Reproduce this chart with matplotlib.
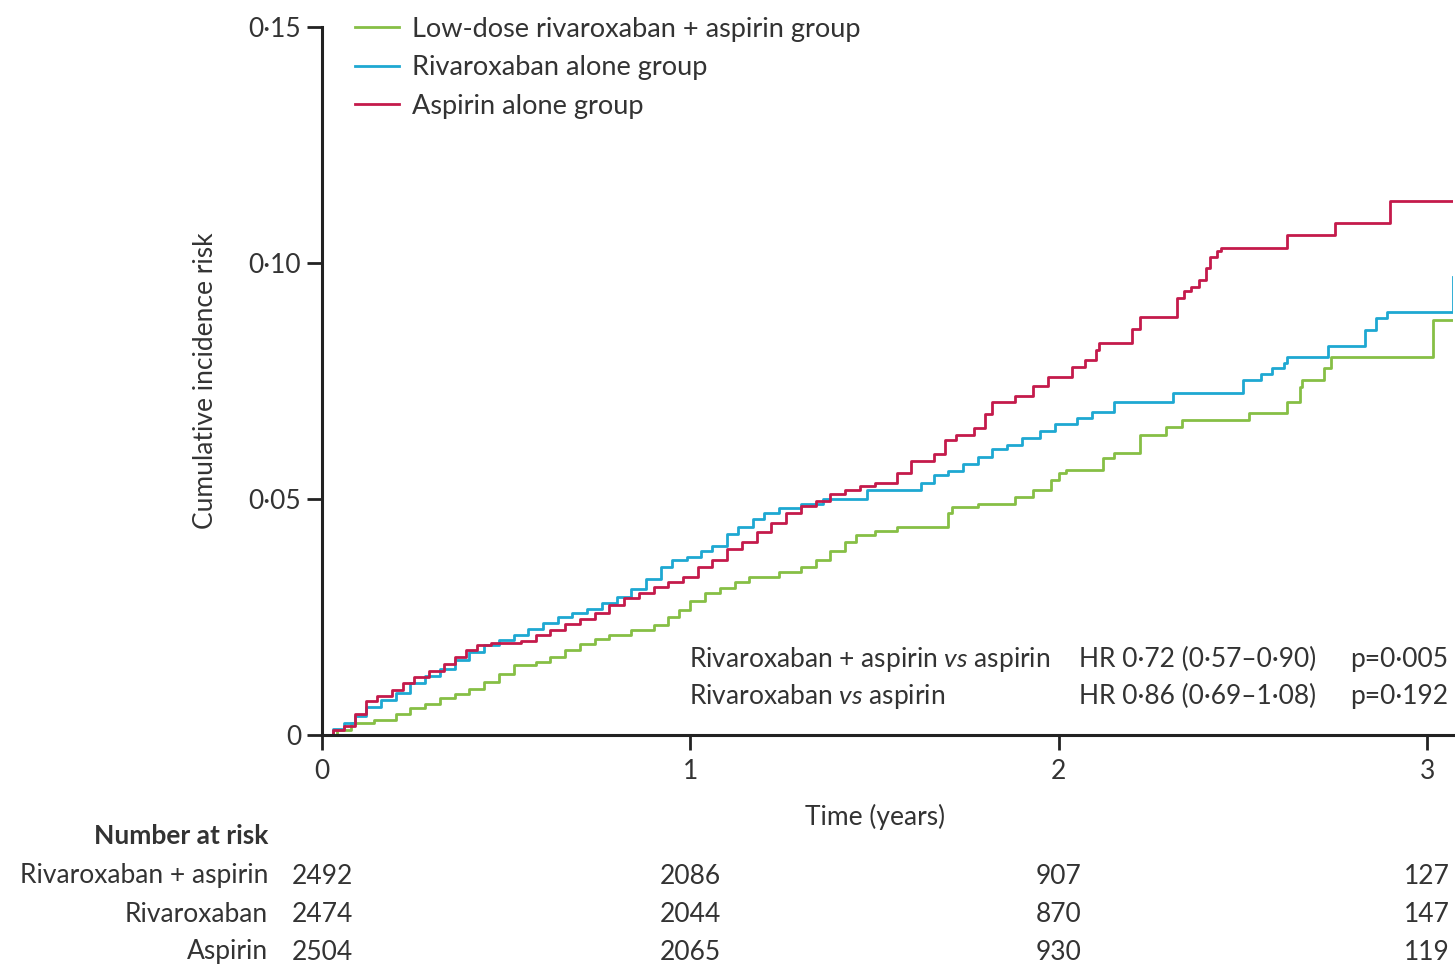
import numpy as np
import matplotlib
matplotlib.use("Agg")
import matplotlib.pyplot as plt
import matplotlib.transforms as mtransforms

plt.rcParams['font.family'] = ['Lato', 'DejaVu Sans']
plt.rcParams['mathtext.fontset'] = 'custom'
plt.rcParams['mathtext.rm'] = 'Lato'
plt.rcParams['mathtext.it'] = 'Lato:italic'

# cumulative incidence, step curves (time in years, risk)
combo_t = [0, 0.04, 0.08, 0.14, 0.20, 0.24, 0.28, 0.32, 0.36, 0.40, 0.44, 0.48, 0.52, 0.58,
           0.62, 0.66, 0.70, 0.74, 0.78, 0.84, 0.90, 0.94, 0.97, 1.00, 1.04, 1.08, 1.12, 1.16,
           1.24, 1.30, 1.34, 1.38, 1.42, 1.45, 1.50, 1.56, 1.70, 1.71, 1.78, 1.88, 1.93, 1.98,
           2.00, 2.02, 2.12, 2.15, 2.22, 2.29, 2.335, 2.515, 2.62, 2.655, 2.66, 2.72, 2.74,
           3.016, 3.07]
combo_v = [0, 0.0010, 0.0025, 0.0032, 0.0045, 0.0058, 0.0066, 0.0078, 0.0086, 0.0098, 0.0112,
           0.0130, 0.0148, 0.0155, 0.0165, 0.0180, 0.0192, 0.0203, 0.0212, 0.0222, 0.0233,
           0.0250, 0.0265, 0.0285, 0.0300, 0.0312, 0.0325, 0.0335, 0.0345, 0.0355, 0.0370,
           0.0390, 0.0410, 0.0424, 0.0432, 0.0441, 0.0470, 0.0483, 0.0490, 0.0505, 0.0520,
           0.0540, 0.0555, 0.0561, 0.0587, 0.0597, 0.0636, 0.0653, 0.0667, 0.0682, 0.0706,
           0.0737, 0.0752, 0.0778, 0.0800, 0.0879, 0.0879]

riva_t = [0, 0.03, 0.06, 0.09, 0.12, 0.16, 0.20, 0.24, 0.28, 0.32, 0.36, 0.40, 0.44, 0.48,
          0.52, 0.56, 0.60, 0.64, 0.68, 0.72, 0.76, 0.80, 0.84, 0.88, 0.92, 0.95, 0.99, 1.03,
          1.06, 1.10, 1.13, 1.17, 1.20, 1.24, 1.30, 1.36, 1.48, 1.625, 1.66, 1.70, 1.74, 1.78,
          1.82, 1.86, 1.90, 1.95, 1.99, 2.05, 2.09, 2.15, 2.31, 2.50, 2.55, 2.58, 2.61, 2.62,
          2.73, 2.83, 2.86, 2.89, 3.07]
riva_v = [0, 0.0012, 0.0025, 0.0040, 0.0060, 0.0075, 0.0090, 0.0110, 0.0125, 0.0140, 0.0158,
          0.0175, 0.0190, 0.0202, 0.0212, 0.0225, 0.0238, 0.0250, 0.0258, 0.0268, 0.0280,
          0.0292, 0.0310, 0.0330, 0.0355, 0.0370, 0.0378, 0.0390, 0.0400, 0.0425, 0.0440,
          0.0458, 0.0470, 0.0480, 0.0490, 0.0500, 0.0520, 0.0535, 0.0550, 0.0560, 0.0575,
          0.0590, 0.0605, 0.0615, 0.0630, 0.0645, 0.0660, 0.0672, 0.0685, 0.0706, 0.0725,
          0.0752, 0.0765, 0.0778, 0.0788, 0.0800, 0.0824, 0.0858, 0.0883, 0.0896, 0.0970]

asp_t = [0, 0.03, 0.06, 0.09, 0.12, 0.15, 0.19, 0.22, 0.25, 0.29, 0.33, 0.36, 0.39, 0.42,
         0.46, 0.54, 0.58, 0.62, 0.66, 0.70, 0.74, 0.78, 0.82, 0.86, 0.90, 0.94, 0.98, 1.02,
         1.06, 1.10, 1.14, 1.18, 1.22, 1.26, 1.30, 1.34, 1.38, 1.42, 1.46, 1.50, 1.56, 1.60,
         1.66, 1.69, 1.72, 1.77, 1.80, 1.82, 1.88, 1.93, 1.97, 2.036, 2.07, 2.10, 2.11, 2.20,
         2.22, 2.32, 2.34, 2.36, 2.38, 2.40, 2.41, 2.43, 2.44, 2.62, 2.75, 2.90, 3.07]
asp_v = [0, 0.0010, 0.0020, 0.0045, 0.0072, 0.0082, 0.0095, 0.0110, 0.0123, 0.0135, 0.0150,
         0.0165, 0.0180, 0.0190, 0.0195, 0.0200, 0.0212, 0.0222, 0.0235, 0.0245, 0.0258,
         0.0275, 0.0290, 0.0300, 0.0314, 0.0325, 0.0335, 0.0355, 0.0370, 0.0395, 0.0410,
         0.0430, 0.0450, 0.0470, 0.0485, 0.0495, 0.0510, 0.0520, 0.0528, 0.0535, 0.0555,
         0.0580, 0.0595, 0.0625, 0.0635, 0.0650, 0.0680, 0.0705, 0.0718, 0.0740, 0.0758,
         0.0780, 0.0795, 0.0815, 0.0830, 0.0860, 0.0886, 0.0926, 0.0940, 0.0950, 0.0964,
         0.0990, 0.1013, 0.1025, 0.1032, 0.1060, 0.1085, 0.1131, 0.1131]

labels = ['Low-dose rivaroxaban + aspirin group', 'Rivaroxaban alone group', 'Aspirin alone group']
colors = ['#86bf45', '#1ea8d2', '#c41a4b']

risk_rows = ['Rivaroxaban + aspirin', 'Rivaroxaban', 'Aspirin']
risk_times = [0, 1, 2, 3]
risk_nums = [[2492, 2086, 907, 127],
             [2474, 2044, 870, 147],
             [2504, 2065, 930, 119]]

hr_rows = [['Rivaroxaban + aspirin $vs$ aspirin', 'HR 0·72 (0·57–0·90)', 'p=0·005'],
           ['Rivaroxaban $vs$ aspirin', 'HR 0·86 (0·69–1·08)', 'p=0·192']]

FS = 19
TXT = '#333333'

fig = plt.figure(figsize=(14.55, 9.66), dpi=100)
ax = fig.add_axes([0.2213, 0.2391, 0.7773, 0.7329])

for t, v, c, lab in zip([combo_t, riva_t, asp_t], [combo_v, riva_v, asp_v], colors, labels):
    ax.step(t, v, where='post', color=c, lw=2.0, label=lab)

ax.set_xlim(0, 3.07)
ax.set_ylim(0, 0.15)
ax.set_xticks([0, 1, 2, 3])
ax.set_xticklabels(['0', '1', '2', '3'])
ax.set_yticks([0, 0.05, 0.10, 0.15])
ax.set_yticklabels(['0', '0·05', '0·10', '0·15'])
for s in ['top', 'right']:
    ax.spines[s].set_visible(False)
for s in ['left', 'bottom']:
    ax.spines[s].set_linewidth(2.2)
    ax.spines[s].set_color('#222222')
ax.tick_params(length=11, width=2, labelsize=FS, colors='#222222', labelcolor=TXT, pad=4)
ax.tick_params(axis='x', pad=6)
ax.set_ylabel('Cumulative incidence risk', fontsize=FS, color=TXT, labelpad=22)

leg = ax.legend(loc='upper left', bbox_to_anchor=(0.008, 1.049), frameon=False, fontsize=19.5,
                handlelength=1.6, handletextpad=0.5, labelspacing=0.5)
for txt in leg.get_texts():
    txt.set_color(TXT)

# HR annotation
for i, row in enumerate(hr_rows):
    y = 0.0161 - i * 0.0080
    ax.text(0.995, y, row[0], fontsize=FS, color=TXT, va='center', ha='left')
    ax.text(2.054, y, row[1], fontsize=FS, color=TXT, va='center', ha='left')
    ax.text(2.79, y, row[2], fontsize=FS, color=TXT, va='center', ha='left')

ax.text(1.5, -0.0174, 'Time (years)', fontsize=FS, color=TXT, ha='center', va='center')

# number at risk table
trans = mtransforms.blended_transform_factory(ax.transData, fig.transFigure)
fig.text(268 / 1455, 1 - 836 / 966, 'Number at risk', fontsize=FS, fontweight='bold',
         color=TXT, ha='right', va='center')
for i, name in enumerate(risk_rows):
    yf = 1 - (876 + i * 38) / 966
    fig.text(268 / 1455, yf, name, fontsize=FS, color=TXT, ha='right', va='center')
    for t, n in zip(risk_times, risk_nums[i]):
        ax.text(t, yf, str(n), transform=trans, fontsize=FS, color=TXT,
                ha='center', va='center', clip_on=False)

fig.savefig('out.png', dpi=100)
